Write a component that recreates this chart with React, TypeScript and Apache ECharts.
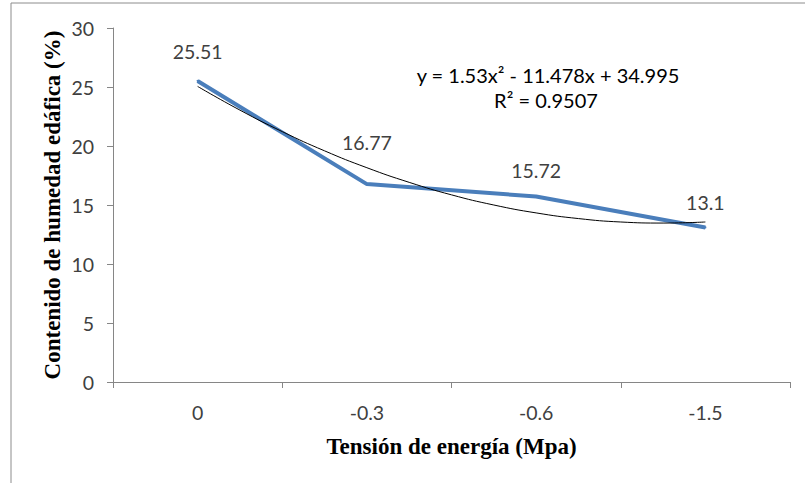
import React, { useEffect, useRef } from "react";
import * as echarts from "echarts";

const categories = ["0", "-0.3", "-0.6", "-1.5"];
const humidity = [25.51, 16.77, 15.72, 13.1];
const labelDistances = [18, 31, 15, 14];
const trendX = [1, 1.25, 1.5, 1.75, 2, 2.25, 2.5, 2.75, 3, 3.25, 3.5, 3.75, 4];
const trendY = [25.05, 23.04, 21.22, 19.59, 18.16, 16.92, 15.86, 15.0, 14.33, 13.85, 13.56, 13.47, 13.56];
const yTicks = { min: 0, max: 30, interval: 5 };
const equationText = "y = 1.53x² - 11.478x + 34.995";
const r2Text = "R² = 0.9507";
const xTitle = "Tensión de energía (Mpa)";
const yTitle = "Contenido de humedad edáfica (%)";

export default function App() {
  const ref = useRef<HTMLDivElement>(null);
  useEffect(() => {
    if (!ref.current) return;
    const chart = echarts.init(ref.current, null, { renderer: "svg" });
    const axisColor = "#868686";
    const labelFont = "Lato, 'Open Sans', sans-serif";
    const titleFont = "'Liberation Serif', 'Times New Roman', serif";
    chart.setOption({
      animation: false,
      backgroundColor: "#ffffff",
      grid: { left: 113, right: 15, top: 28, bottom: 101, containLabel: false },
      xAxis: [
        {
          type: "category",
          data: categories,
          boundaryGap: true,
          axisLine: { show: true, lineStyle: { color: axisColor, width: 1 } },
          axisTick: { show: true, length: 6, alignWithLabel: false, lineStyle: { color: axisColor } },
          axisLabel: { color: "#404040", fontFamily: labelFont, fontSize: 19.5, margin: 20 },
          splitLine: { show: false },
          name: xTitle,
          nameLocation: "middle",
          nameGap: 53,
          nameMoveOverlap: false,
          nameTextStyle: { fontFamily: titleFont, fontWeight: "bold", fontSize: 23, color: "#000000" },
        },
        {
          type: "value",
          min: 0.5,
          max: 4.5,
          show: false,
        },
      ],
      yAxis: {
        type: "value",
        min: yTicks.min,
        max: yTicks.max,
        interval: yTicks.interval,
        axisLine: { show: true, lineStyle: { color: axisColor, width: 1 } },
        axisTick: { show: true, length: 6, lineStyle: { color: axisColor } },
        axisLabel: { color: "#404040", fontFamily: labelFont, fontSize: 19.5, margin: 19 },
        splitLine: { show: false },
        name: yTitle,
        nameLocation: "middle",
        nameGap: 49,
        nameMoveOverlap: false,
        nameRotate: 90,
        nameTextStyle: { fontFamily: titleFont, fontWeight: "bold", fontSize: 23, color: "#000000" },
      },
      series: [
        {
          type: "line",
          xAxisIndex: 0,
          data: humidity.map((v, i) => ({
            value: v,
            label: { show: true, position: "top", distance: labelDistances[i] },
          })),
          symbol: "circle",
          symbolSize: 2,
          showSymbol: true,
          itemStyle: { color: "#4a7ebb" },
          lineStyle: { color: "#4a7ebb", width: 4 },
          label: {
            show: true,
            position: "top",
            color: "#404040",
            fontFamily: labelFont,
            fontSize: 19.5,
            lineHeight: 20,
          },
          labelLayout: { hideOverlap: false },
          z: 2,
        },
        {
          type: "line",
          xAxisIndex: 1,
          data: trendX.map((x, i) => [x, trendY[i]]),
          symbol: "none",
          smooth: true,
          lineStyle: { color: "#000000", width: 1 },
          z: 3,
        },
      ],
      graphic: [
        {
          type: "rect",
          shape: { x: 11, y: 3, width: 820, height: 520 },
          style: { fill: "none", stroke: "#8c8c8c", lineWidth: 1 },
          silent: true,
        },
        {
          type: "text",
          x: 548,
          y: 75,
          style: {
            text: equationText,
            fontFamily: labelFont,
            fontSize: 20,
            fill: "#000000",
            align: "center",
            verticalAlign: "middle",
          },
        },
        {
          type: "text",
          x: 546,
          y: 100,
          style: {
            text: r2Text,
            fontFamily: labelFont,
            fontSize: 20,
            fill: "#000000",
            align: "center",
            verticalAlign: "middle",
          },
        },
      ],
    });
    return () => chart.dispose();
  }, []);
  return (
    <div
      ref={ref}
      style={{ position: "absolute", left: 0, top: 0, width: 805, height: 483 }}
    />
  );
}
